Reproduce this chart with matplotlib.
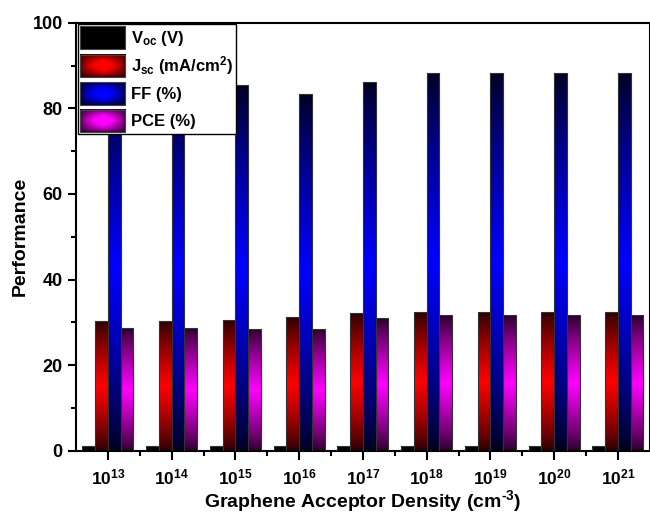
import numpy as np
import matplotlib
matplotlib.use('Agg')
import matplotlib.pyplot as plt
from matplotlib.legend_handler import HandlerBase
from matplotlib.image import BboxImage
from matplotlib.transforms import Bbox, TransformedBbox
from matplotlib.patches import Rectangle
from matplotlib.colors import to_rgb

# ---------------- data ----------------
categories = ['10$^{13}$', '10$^{14}$', '10$^{15}$', '10$^{16}$', '10$^{17}$',
              '10$^{18}$', '10$^{19}$', '10$^{20}$', '10$^{21}$']
voc = [1.05, 1.05, 1.05, 1.05, 1.05, 1.05, 1.05, 1.05, 1.05]
jsc = [30.4, 30.4, 30.5, 31.3, 32.2, 32.3, 32.3, 32.3, 32.3]
ff = [85.2, 85.3, 85.4, 83.3, 86.3, 88.2, 88.2, 88.2, 88.2]
pce = [28.6, 28.6, 28.4, 28.4, 30.9, 31.8, 31.8, 31.8, 31.8]
series_labels = ['V$_{oc}$ (V)', 'J$_{sc}$ (mA/cm$^{2}$)', 'FF (%)', 'PCE (%)']
bright_colors = ['#000000', '#ff0000', '#0000ff', '#ff00ff']
dark_colors = ['#000000', '#250000', '#00001e', '#220022']

plt.rcParams['font.family'] = ['Liberation Sans', 'DejaVu Sans']
plt.rcParams['font.weight'] = 'bold'
plt.rcParams['mathtext.fontset'] = 'custom'
plt.rcParams['mathtext.rm'] = 'Liberation Sans:bold'
plt.rcParams['mathtext.it'] = 'Liberation Sans:bold'
plt.rcParams['mathtext.bf'] = 'Liberation Sans:bold'
plt.rcParams['mathtext.default'] = 'rm'


def vgrad(bright, dark, n=256):
    t = np.linspace(0, 1, n)
    f = (1 - np.abs(2 * t - 1)) ** 0.8
    b = np.array(to_rgb(bright)); d = np.array(to_rgb(dark))
    img = d[None, :] + (b - d)[None, :] * f[:, None]
    return img[:, None, :]


def grad2d(bright, dark, n=64):
    t = np.linspace(0, 1, n)
    fx = 1 - np.abs(2 * t - 1)
    f = (fx[:, None] * fx[None, :]) ** 0.5
    f = np.clip(f * 1.3, 0, 1)
    b = np.array(to_rgb(bright)); d = np.array(to_rgb(dark))
    return d[None, None, :] + (b - d)[None, None, :] * f[:, :, None]


class GradHandler(HandlerBase):
    def __init__(self, bright, dark):
        super().__init__()
        self.bright = bright
        self.dark = dark

    def create_artists(self, legend, orig_handle, xdescent, ydescent,
                       width, height, fontsize, trans):
        bb = TransformedBbox(Bbox.from_bounds(-xdescent, -ydescent, width, height), trans)
        im = BboxImage(bb, interpolation='bilinear')
        im.set_data(grad2d(self.bright, self.dark))
        rect = Rectangle((-xdescent, -ydescent), width, height, facecolor='none',
                         edgecolor='#444444', lw=0.8, transform=trans)
        return [im, rect]


fig = plt.figure(figsize=(6.5, 5.14), dpi=100)
ax = fig.add_axes([0.117, 0.1235, 0.8827, 0.8318])

x = np.arange(len(categories))
width = 0.2
series = [voc, jsc, ff, pce]
handles = []
for i, vals in enumerate(series):
    offs = (i - 1.5) * width
    bars = ax.bar(x + offs, vals, width, facecolor='none', edgecolor='#333333',
                  lw=0.8, zorder=3, label=series_labels[i])
    handles.append(bars)
    g = vgrad(bright_colors[i], dark_colors[i])
    for p in bars.patches:
        x0 = p.get_x(); w = p.get_width(); h = p.get_height()
        ax.imshow(g, extent=[x0, x0 + w, 0, h], aspect='auto', zorder=2,
                  interpolation='bilinear', origin='lower')

ax.set_xlim(-0.5, 8.5)
ax.set_ylim(0, 100)
ax.set_aspect('auto')

ax.set_xticks(x)
ax.set_xticklabels(categories, fontsize=12.5, fontweight='bold')
ax.set_xticks(np.arange(0.5, 8.0, 1.0), minor=True)
ax.set_yticks([0, 20, 40, 60, 80, 100])
ax.set_yticks([10, 30, 50, 70, 90], minor=True)
ax.tick_params(axis='y', labelsize=13)
for lab in ax.get_yticklabels():
    lab.set_fontweight('bold')
ax.tick_params(which='major', direction='out', length=5.5, width=1.5)
ax.tick_params(which='minor', direction='out', length=3.5, width=1.5)
ax.tick_params(axis='x', which='major', length=6.5, pad=6)
ax.tick_params(axis='y', which='major', pad=4)
ax.tick_params(top=False, right=False, which='both')
for s in ax.spines.values():
    s.set_linewidth(1.5)

ax.set_xlabel(r'Graphene Acceptor Density (cm$^{\text{-3}}$)', fontsize=14,
              fontweight='bold', labelpad=0)
ax.set_ylabel('Performance', fontsize=14, fontweight='bold', labelpad=3)

hmap = {handles[i]: GradHandler(bright_colors[i], dark_colors[i]) for i in range(4)}
leg = ax.legend(handles=handles, labels=series_labels, loc='upper left',
                bbox_to_anchor=(0.003, 0.9965), borderaxespad=0,
                handlelength=2.7, handleheight=1.7, labelspacing=0.3,
                handletextpad=0.4, borderpad=0.12, fancybox=False, framealpha=1,
                edgecolor='black', handler_map=hmap, prop={'weight': 'bold', 'size': 12})
leg.get_frame().set_linewidth(1.0)
leg.set_zorder(5)

fig.savefig('out.png', dpi=100)
